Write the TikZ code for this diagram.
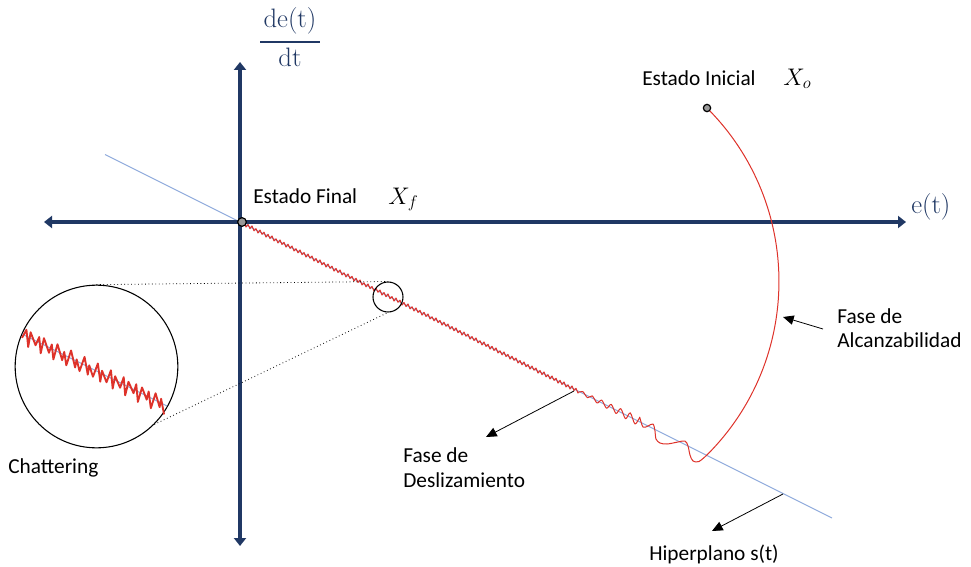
\RequirePackage{fix-cm}
\documentclass[tikz,border=0pt]{standalone}
\usepackage[no-math]{fontspec}
\setmainfont{Carlito}
\usetikzlibrary{arrows.meta}
\definecolor{navy}{RGB}{32,56,100}
\definecolor{lblue}{RGB}{143,170,220}
\definecolor{tred}{RGB}{222,50,42}
\begin{document}
\begin{tikzpicture}[x=0.75pt,y=-0.75pt,
  axis/.style={navy, line width=2.3pt, {Triangle[length=6pt,width=9pt]}-{Triangle[length=6pt,width=9pt]}},
  lbl/.style={font=\fontsize{16}{18}\selectfont, anchor=base west, inner sep=0pt},
  mlbl/.style={font=\fontsize{18}{20}\selectfont, anchor=base west, inner sep=0pt},
  axlbl/.style={text=navy, font=\fontsize{20}{24}\selectfont, anchor=base, inner sep=0pt},
  pointer/.style={black, line width=0.6pt, -{Triangle[length=8pt,width=7pt]}},
  traj/.style={tred, line width=0.75pt, line join=round},
  hyper/.style={lblue, line width=0.75pt},
  guide/.style={black, dotted, line width=0.6pt},
  lens/.style={circle, draw=black, line width=0.8pt, inner sep=0pt},
  statedot/.style={circle, draw=black, fill=gray!80, line width=0.9pt, inner sep=0pt, minimum size=6.5pt}
]
\useasboundingbox (0,0) rectangle (971,567);

% hyperplane
\coordinate (h1) at (105,154.5);
\coordinate (h2) at (832,518);
\draw[hyper] (h1) -- (h2);

% axes
\coordinate (yt) at (240,62);
\coordinate (yb) at (240,546);
\coordinate (xl) at (44,222);
\coordinate (xr) at (906,222);
\draw[axis] (yb) -- (yt);
\draw[axis] (xl) -- (xr);

% trajectory: chattering, growing oscillation, reaching phase
\draw[traj]
  plot[domain=0:168, samples=169] ({242+2*\x}, {223+\x+(1-2*mod(\x,2))*(1.2+0.9*abs(sin(\x*53)))})
  -- plot[smooth, domain=0:13, samples=14] ({578+4.75*\x}, {223+0.5*(336+4.75*\x)+(1-2*mod(\x,2))*(1.5+0.25*\x)})
  -- plot[smooth, tension=0.55] coordinates {(639.75,417.1) (643,427) (648,426) (653,424) (655,431) (656,439) (660,443) (667,444) (678,442) (685,441) (688,446) (690,455) (693,461) (699,461.5) (707.2,454.7)}
  arc[start angle=45, end angle=-45, radius=245];

% state dots
\node[statedot] (orig) at (242,222) {};
\node[statedot, minimum size=5.5pt] (init) at (707,108) {};

% magnifier
\node[lens, minimum size=22.5pt] (lensS) at (388,297) {};
\node[lens, minimum size=122pt] (lensB) at (96.5,366.5) {};
\draw[guide] (lensB.north) -- (lensS.north);
\draw[guide] (lensB.-45) -- (lensS.south);
\draw[hyper] (22,334) -- (167,406);
\draw[tred, line width=1.4pt, line join=round]
  plot[domain=0:44, samples=45] ({22+\x*143/44+1.2*sin(\x*97)}, {335+\x*71/44+(1-2*mod(\x,2))*(2.8+6*abs(sin(\x*137.5)))});

% axis labels
\node[axlbl] (num) at (290,28) {$\mathrm{de(t)}$};
\draw[navy, line width=1.3pt] (260,42) -- (320,42);
\node[axlbl] (den) at (290,67) {$\mathrm{dt}$};
\node[axlbl, anchor=base west] (et) at (911,213) {$\mathrm{e(t)}$};

% labels
\node[lbl] (ei) at (642,85) {Estado Inicial};
\node[mlbl] (xo) at (783,85) {$X_o$};
\node[lbl] (ef) at (253,203) {Estado Final};
\node[mlbl] (xf) at (388,204) {$X_f$};
\node[lbl] (fa1) at (837,323) {Fase de};
\node[lbl] (fa2) at (837,347) {Alcanzabilidad};
\node[lbl] (fd1) at (403,462) {Fase de};
\node[lbl] (fd2) at (403,487) {Deslizamiento};
\node[lbl] (ch) at (8,473) {Chattering};
\node[lbl] (hp) at (649,560) {Hiperplano s(t)};

% pointer arrows
\coordinate (aT) at (823,329); \coordinate (aH) at (783,317);
\coordinate (dT) at (574,391); \coordinate (dH) at (486,437);
\coordinate (pT) at (783,494); \coordinate (pH) at (712,531);
\draw[pointer] (aT) -- (aH);
\draw[pointer] (dT) -- (dH);
\draw[pointer] (pT) -- (pH);
\end{tikzpicture}
\end{document}
